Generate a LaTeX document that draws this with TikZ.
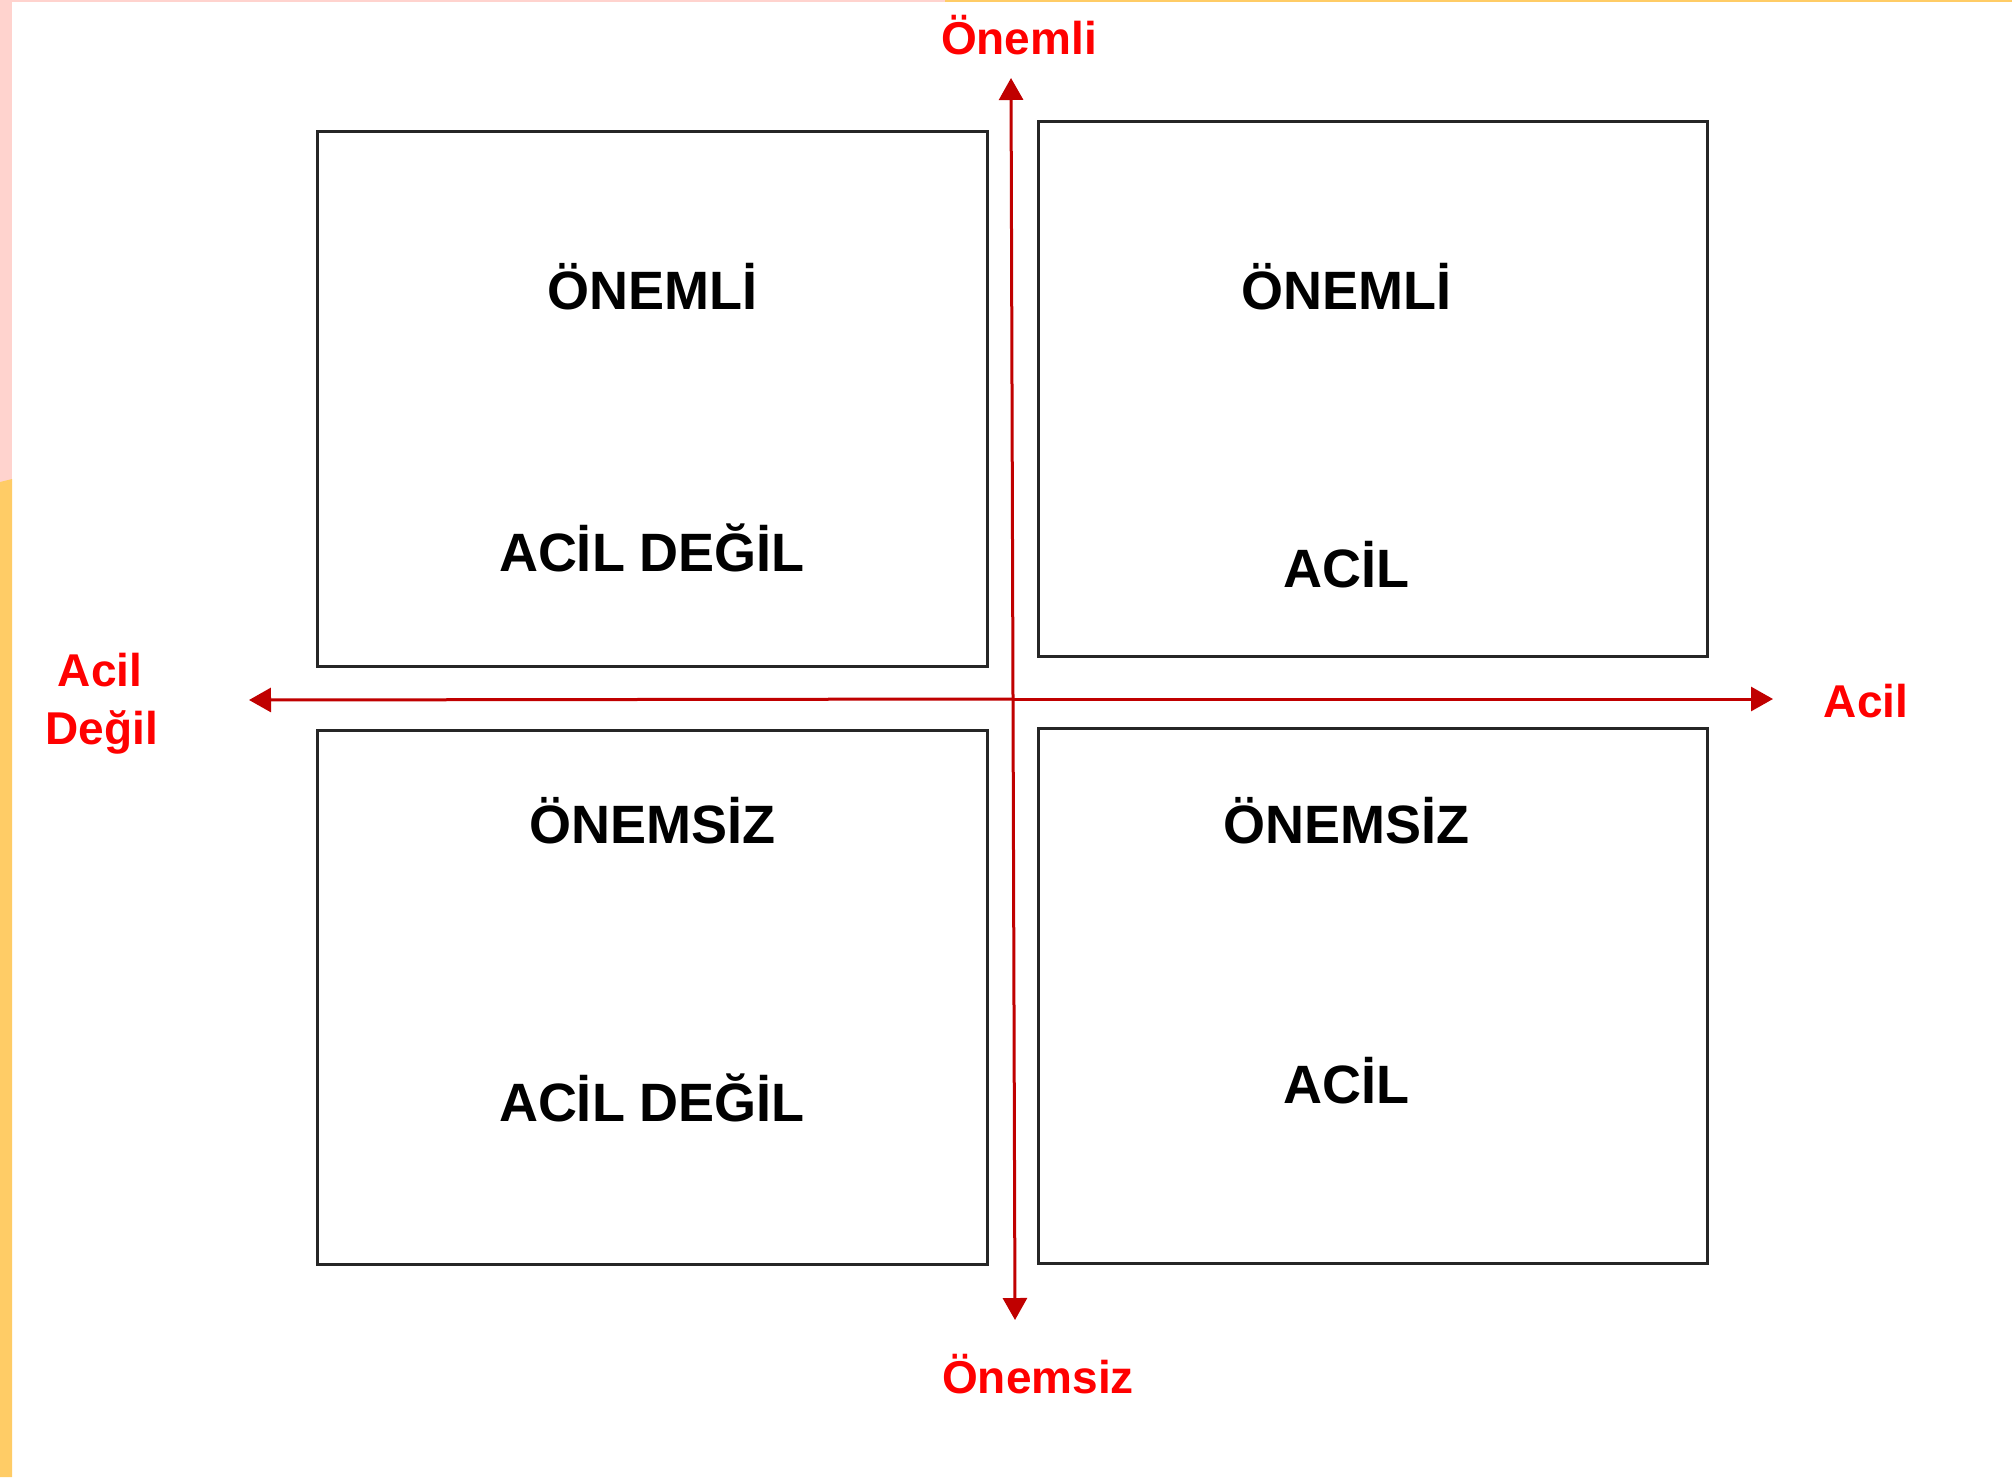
\documentclass[tikz,border=0pt]{standalone}
\usepackage{fontspec}
\setmainfont{Liberation Sans}
\usetikzlibrary{arrows.meta}

\definecolor{axisred}{HTML}{C00000}
\definecolor{labelred}{HTML}{FF0000}
\definecolor{boxline}{HTML}{262626}
\definecolor{stripink}{HTML}{FFD3CE}
\definecolor{stripyellow}{HTML}{FFCC66}

\tikzset{
  quadrant/.style={draw=boxline, line width=3pt, fill=white, inner sep=0pt},
  quadtext/.style={inner sep=0pt, anchor=base, text=black,
    font=\fontsize{54}{60}\selectfont\bfseries},
  axislabel/.style={inner sep=0pt, anchor=base, text=labelred,
    font=\fontsize{46}{56}\selectfont\bfseries},
  axisline/.style={draw=axisred, line width=3pt,
    -{Triangle[length=22pt, width=24pt]}},
}

\begin{document}
\begin{tikzpicture}[x=1pt, y=-1pt]
  % page and its coloured edges
  \useasboundingbox (0,0) rectangle (2012,1477);
  \fill[white] (0,0) rectangle (2012,1477);
  \fill[stripink] (0,0) rectangle (12,482);
  \fill[stripyellow] (0,482) .. controls (4,481) and (8,480) .. (12,479)
    -- (12,1477) -- (0,1477) -- cycle;
  \fill[stripink] (0,0) rectangle (945,2);
  \fill[stripyellow] (945,0) rectangle (2012,2);

  % the four quadrants
  \node[quadrant, minimum width=670pt, minimum height=534pt] (tl) at (652,399) {};
  \node[quadrant, minimum width=669pt, minimum height=534pt] (tr) at (1372.5,389) {};
  \node[quadrant, minimum width=670pt, minimum height=534pt] (bl) at (652,997) {};
  \node[quadrant, minimum width=669pt, minimum height=535pt] (br) at (1372.5,995.5) {};

  \node[quadtext] (tl1) at (652,309) {ÖNEMLİ};
  \node[quadtext] (tl2) at (652,571) {ACİL DEĞİL};
  \node[quadtext] (tr1) at (1346,309) {ÖNEMLİ};
  \node[quadtext] (tr2) at (1346,587) {ACİL};
  \node[quadtext] (bl1) at (652,843) {ÖNEMSİZ};
  \node[quadtext] (bl2) at (652,1121) {ACİL DEĞİL};
  \node[quadtext] (br1) at (1346,843) {ÖNEMSİZ};
  \node[quadtext] (br2) at (1346,1103) {ACİL};

  % axes
  \coordinate (vtop) at (1011,78);
  \coordinate (vbot) at (1015,1320);
  \coordinate (hleft) at (249,700);
  \coordinate (hright) at (1773,699);
  \coordinate (vmid) at (1013,699);
  \draw[axisline] (vmid) -- (vtop);
  \draw[axisline] (vmid) -- (vbot);
  \draw[axisline] (vmid) -- (hleft);
  \draw[axisline] (vmid) -- (hright);

  % axis labels
  \node[axislabel] (important) at (1019,55) {Önemli};
  \node[axislabel] (unimportant) at (1038,1393) {Önemsiz};
  \node[axislabel] (urgent) at (1866,717) {Acil};
  \node[axislabel] (noturgent1) at (100,686) {Acil};
  \node[axislabel] (noturgent2) at (102,744) {Değil};
\end{tikzpicture}
\end{document}
